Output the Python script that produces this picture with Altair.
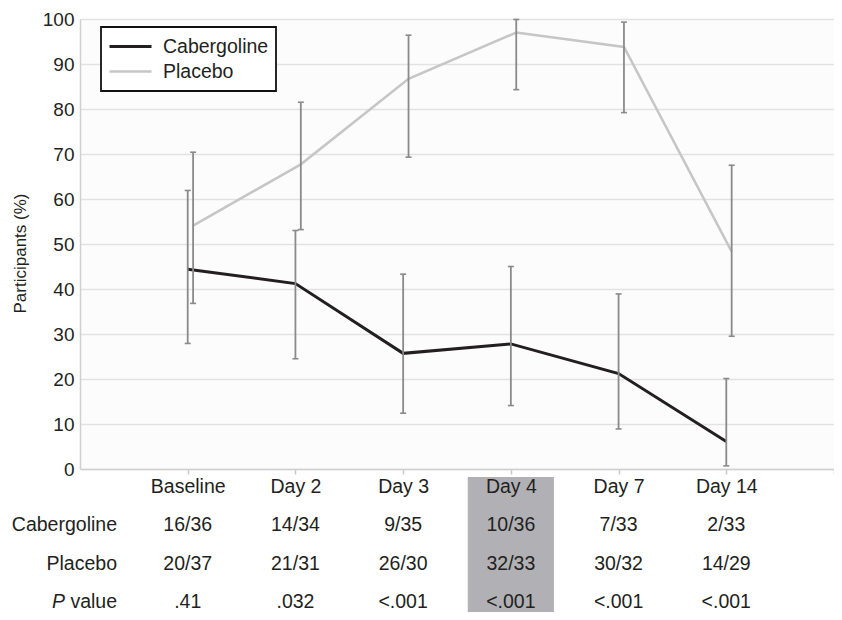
import altair as alt
import pandas as pd

# ---------------- data ----------------
categories = ["Baseline", "Day 2", "Day 3", "Day 4", "Day 7", "Day 14"]
series_names = ["Cabergoline", "Placebo"]

cab_pct = [44.4, 41.2, 25.7, 27.8, 21.2, 6.1]
cab_lo = [27.9, 24.5, 12.4, 14.1, 8.9, 0.7]
cab_hi = [61.9, 53.0, 43.3, 45.0, 38.9, 20.1]

pla_pct = [54.1, 67.7, 86.7, 97.0, 93.8, 48.3]
pla_lo = [36.8, 53.2, 69.3, 84.3, 79.2, 29.5]
pla_hi = [70.4, 81.5, 96.4, 99.9, 99.3, 67.5]

cab_frac = ["16/36", "14/34", "9/35", "10/36", "7/33", "2/33"]
pla_frac = ["20/37", "21/31", "26/30", "32/33", "30/32", "14/29"]
p_values = [".41", ".032", "<.001", "<.001", "<.001", "<.001"]
highlight = "Day 4"

# ---------------- tables built from the arrays ----------------
n = len(categories)
rows = []
for s, pct, lo, hi in [(series_names[0], cab_pct, cab_lo, cab_hi),
                       (series_names[1], pla_pct, pla_lo, pla_hi)]:
    for i, c in enumerate(categories):
        rows.append({"series": s, "cat": c, "idx": i + 1,
                     "pct": pct[i], "lo": lo[i], "hi": hi[i]})
series_df = pd.DataFrame(rows)
table_df = pd.DataFrame({"cat": categories, "idx": list(range(1, n + 1)),
                         "cab": cab_frac, "pla": pla_frac, "p": p_values})

FONT = "Liberation Sans"
TXT = "#231f20"
BAR = "#8a8a8a"

label_expr = "[" + ",".join("'%s'" % c for c in categories) + "][datum.value - 1] || ''"

x_scale = alt.Scale(domain=[0, n + 1], nice=False, zero=False)
x_axis = alt.Axis(values=list(range(1, n + 2)), labelExpr=label_expr, grid=False,
                  title=None, tickSize=5, tickColor="#c8c8c8", tickWidth=1.5,
                  domainColor="#d0d0d0", domainWidth=1.5, labelPadding=3,
                  labelFontSize=19.5, labelFont=FONT, labelColor=TXT, zindex=1)
y_scale = alt.Scale(domain=[0, 100], nice=False)
y_axis = alt.Axis(values=list(range(0, 101, 10)), title="Participants (%)",
                  titleFontSize=17, titleFontWeight="normal", titleX=-60, titleY=234,
                  titleAngle=-90, titleAlign="center", titleBaseline="middle",
                  ticks=False, labelPadding=6, labelFontSize=19, labelFont=FONT,
                  labelColor=TXT, titleFont=FONT, titleColor=TXT,
                  domainColor="#d0d0d0", domainWidth=1.5,
                  gridColor="#e2e2e2", gridWidth=1.5)

base = alt.Chart(series_df).transform_calculate(
    x="datum.idx + (datum.series === 'Placebo' ? 0.05 : 0)"
)

lines = base.mark_line().encode(
    x=alt.X("x:Q", scale=x_scale, axis=x_axis),
    y=alt.Y("pct:Q", scale=y_scale, axis=y_axis),
    color=alt.Color("series:N",
                    scale=alt.Scale(domain=series_names, range=["#231f20", "#c6c6c6"]),
                    legend=alt.Legend(title=None, orient="none", legendX=21, legendY=8,
                                      symbolType="stroke", symbolSize=1764,
                                      symbolStrokeWidth=4, clipHeight=25, rowPadding=0,
                                      padding=7, labelOffset=10, labelFontSize=19.5,
                                      labelFont=FONT, labelColor=TXT,
                                      strokeColor="#111111", fillColor="white")),
    strokeWidth=alt.StrokeWidth("series:N",
                                scale=alt.Scale(domain=series_names, range=[3, 2.5]),
                                legend=None),
)

bars = base.mark_rule(color=BAR, strokeWidth=1.8).encode(
    x=alt.X("x:Q", scale=x_scale, axis=x_axis),
    y=alt.Y("lo:Q", scale=y_scale, axis=y_axis),
    y2="hi:Q",
)

caps = base.transform_fold(["lo", "hi"], as_=["end", "v"]).mark_tick(
    orient="horizontal", size=6, thickness=1.6, color=BAR, opacity=1
).encode(
    x=alt.X("x:Q", scale=x_scale, axis=x_axis),
    y=alt.Y("v:Q", scale=y_scale, axis=y_axis),
)

tbase = alt.Chart(table_df)

hl = tbase.transform_filter(alt.datum.cat == highlight).transform_calculate(
    x0="datum.idx - 0.4", x1="datum.idx + 0.4"
).mark_rect(color="#b1b1b5").encode(
    x=alt.X("x0:Q", scale=x_scale, axis=x_axis),
    x2="x1:Q",
    y=alt.value(458),
    y2=alt.value(593),
)

ROW_CAB, ROW_PLA, ROW_P = 506, 545, 583


def row(field, ypix):
    return tbase.mark_text(baseline="middle").encode(
        x=alt.X("idx:Q", scale=x_scale, axis=x_axis),
        y=alt.value(ypix),
        text=alt.Text(field + ":N"),
    )


def row_label(label, ypix, xpix=37, italic=False):
    mk = dict(baseline="middle", align="right")
    if italic:
        mk["fontStyle"] = "italic"
    return alt.Chart(pd.DataFrame({"t": [label]})).mark_text(**mk).encode(
        x=alt.value(xpix), y=alt.value(ypix), text="t:N"
    )


chart = alt.layer(
    hl, lines, bars, caps,
    row("cab", ROW_CAB), row("pla", ROW_PLA), row("p", ROW_P),
    row_label(series_names[0], ROW_CAB), row_label(series_names[1], ROW_PLA),
    row_label("value", ROW_P), row_label("P", ROW_P, xpix=-15, italic=True),
).properties(
    width=754, height=450,
    autosize=alt.AutoSizeParams(type="none"),
    padding={"left": 72, "top": 11, "right": 0, "bottom": 143},
).configure_text(
    font=FONT, fontSize=19.5, color=TXT
).configure_legend(
    strokeWidth=1.8
).configure_view(
    stroke="transparent", fill="#fcfcfc"
)

chart.save("out.html", embed_options={"renderer": "svg", "actions": False})
